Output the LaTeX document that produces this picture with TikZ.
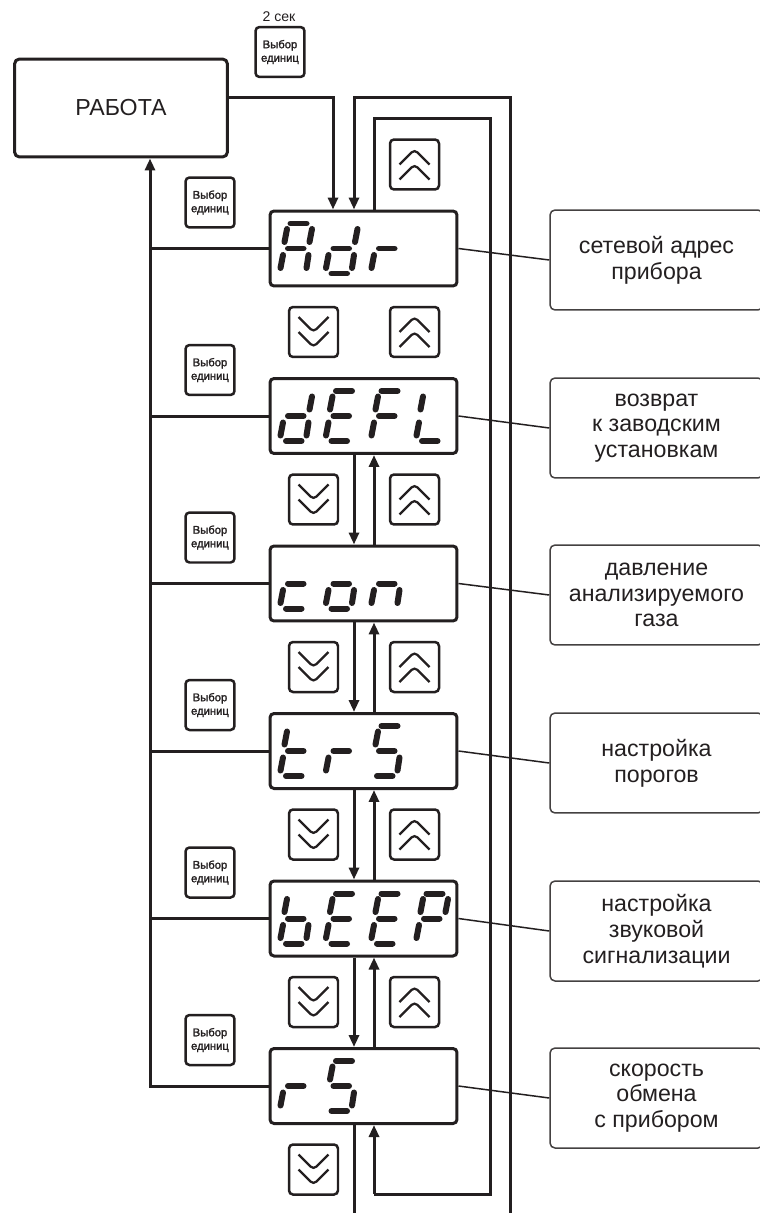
\documentclass[tikz,border=0pt]{standalone}
\usepackage{fontspec}
\setmainfont{Liberation Sans}
\newfontfamily\keyfont[FakeBold=1.6]{Liberation Sans}
\usepackage{xcolor}
\usetikzlibrary{arrows.meta, calc}
\definecolor{InkDark}{RGB}{35,31,32}
% segments of one display digit
\newcommand{\sega}{(-5.5,-25)--(10.5,-25)}
\newcommand{\segb}{(16,-19.5)--(13.5,-6.5)}
\newcommand{\segc}{(12.5,6.5)--(10.5,19.5)}
\newcommand{\segd}{(-10,25)--(5.5,25)}
\newcommand{\sege}{(-13,6.5)--(-15.5,19.5)}
\newcommand{\segf}{(-9,-19.5)--(-11.5,-6.5)}
\newcommand{\segg}{(-8,0)--(7.5,0)}
\newcommand{\digit}[3]{%
  \begin{scope}[shift={(#1,#2)}]
    \foreach \s in {#3} \draw[seg] \csname seg\s\endcsname;
  \end{scope}}
\begin{document}
\begin{tikzpicture}[
    x=0.02cm,y=-0.02cm,
    every node/.style={text=InkDark},
    dsp/.style={draw=InkDark,line width=0.06cm,rounded corners=0.08cm,fill=white,
                minimum width=3.74cm,minimum height=1.5cm,inner sep=0},
    work/.style={draw=InkDark,line width=0.06cm,rounded corners=0.1cm,
                 minimum width=4.26cm,minimum height=1.96cm,
                 font=\fontsize{13.2}{15}\selectfont},
    note/.style={draw=InkDark!85,line width=0.03cm,rounded corners=0.1cm,
                 minimum width=4.26cm,minimum height=2cm,inner sep=0,align=center,
                 font=\fontsize{13.2}{14.7}\selectfont},
    key/.style={draw=InkDark,line width=0.05cm,rounded corners=0.08cm,
                minimum width=0.98cm,minimum height=1cm,inner sep=0},
    unitkey/.style={key,align=center,
                    font=\fontsize{6.4}{7.7}\keyfont},
    upkey/.style={key,path picture={
        \draw[chev,shift={(path picture bounding box.center)}]
          (-15,0)--(0,-15)--(15,0) (-15,15)--(0,0)--(15,15);}},
    dnkey/.style={key,path picture={
        \draw[chev,shift={(path picture bounding box.center)}]
          (-15,0)--(0,15)--(15,0) (-15,-15)--(0,0)--(15,-15);}},
    chev/.style={InkDark,line width=0.045cm},
    seg/.style={InkDark,line width=0.12cm,line cap=round},
    ln/.style={InkDark,line width=0.06cm},
    arr/.style={ln,-{Triangle[length=0.24cm,width=0.2cm]}},
    thin/.style={InkDark,line width=0.03cm}
  ]
  \useasboundingbox (0,0) rectangle (760,1213);

  % lanes
  \coordinate (bus) at (150,0);
  \coordinate (enter) at (333,98);
  \coordinate (dn) at (354,0);
  \coordinate (up) at (374,0);
  \coordinate (outer) at (510.5,98);
  \coordinate (inner) at (490,119);
  \coordinate (loop) at (490,1194);
  \coordinate (dnend) at (354,1213);
  \coordinate (outend) at (510.5,1213);

  \node[work] (work) at (121,108) {РАБОТА};
  \node[font=\fontsize{8}{9}\selectfont] (hold) at (279,17) {2 сек};
  \node[unitkey] (k0) at (280,52) {Выбор\\единиц};

  % displays
  \node[dsp] (adr)  at (363.5,248.5) {};
  \node[dsp] (defl) at (363.5,416) {};
  \node[dsp] (con)  at (363.5,583.5) {};
  \node[dsp] (trs)  at (363.5,751) {};
  \node[dsp] (beep) at (363.5,918.5) {};
  \node[dsp] (rs)   at (363.5,1086) {};

  \node[note] (nadr)  at (656.5,260) {сетевой адрес\\прибора};
  \node[note] (ndefl) at (656.5,428) {возврат\\к заводским\\установкам};
  \node[note] (ncon)  at (656.5,595) {давление\\анализируемого\\газа};
  \node[note] (ntrs)  at (656.5,763) {настройка\\порогов};
  \node[note] (nbeep) at (656.5,931) {настройка\\звуковой\\сигнализации};
  \node[note] (nrs)   at (656.5,1098) {скорость\\обмена\\с прибором};

  \node[unitkey] (k1) at (210,202.5) {Выбор\\единиц};
  \node[unitkey] (k2) at (210,370) {Выбор\\единиц};
  \node[unitkey] (k3) at (210,537.5) {Выбор\\единиц};
  \node[unitkey] (k4) at (210,705) {Выбор\\единиц};
  \node[unitkey] (k5) at (210,872.5) {Выбор\\единиц};
  \node[unitkey] (k6) at (210,1040) {Выбор\\единиц};

  \node[upkey] (u0) at (414.5,164.5) {};
  \node[upkey] (u1) at (414.5,332) {};
  \node[upkey] (u2) at (414.5,499.5) {};
  \node[upkey] (u3) at (414.5,667) {};
  \node[upkey] (u4) at (414.5,834.5) {};
  \node[upkey] (u5) at (414.5,1002) {};
  \node[dnkey] (d1) at (313.5,332) {};
  \node[dnkey] (d2) at (313.5,499.5) {};
  \node[dnkey] (d3) at (313.5,667) {};
  \node[dnkey] (d4) at (313.5,834.5) {};
  \node[dnkey] (d5) at (313.5,1002) {};
  \node[dnkey] (d6) at (313.5,1169.5) {};

  \draw[arr] (work.east |- enter) -- (enter) -- (enter |- adr.north);
  \draw[arr] (outend) -- (outer) -- (outer -| dn) -- (dn |- adr.north);
  \draw[ln] (up |- adr.north) -- (up |- inner) -- (inner) -- (loop) -- (loop -| up);
  \draw[arr] (loop -| up) -- (up |- rs.south);
  \draw[ln] (dn |- rs.south) -- (dnend);
  \draw[arr] (rs.west) -| (bus |- work.south);
  \foreach \n in {adr,defl,con,trs,beep}
    \draw[ln] (\n.west) -- (\n.west -| bus);
  \foreach \a/\b in {defl/con,con/trs,trs/beep,beep/rs} {
    \draw[arr] (dn |- \a.south) -- (dn |- \b.north);
    \draw[arr] (up |- \b.north) -- (up |- \a.south);
  }
  \foreach \a/\b in {adr/nadr,defl/ndefl,con/ncon,trs/ntrs,beep/nbeep,rs/nrs}
    \draw[thin] (\a.east) -- (\b.west);

  % display texts
  \digit{296}{248.5}{a,b,c,e,f,g}
  \digit{341.5}{248.5}{b,c,d,e,g}
  \digit{387}{248.5}{e,g}

  \digit{296}{416}{b,c,d,e,g}
  \digit{341.5}{416}{a,d,e,f,g}
  \digit{387}{416}{a,e,f,g}
  \digit{432}{416}{d,e,f}

  \digit{296}{583.5}{d,e,g}
  \digit{341.5}{583.5}{c,d,e,g}
  \digit{387}{583.5}{c,e,g}

  \digit{296}{751}{d,e,f,g}
  \digit{341.5}{751}{e,g}
  \digit{387}{751}{a,c,d,f,g}

  \digit{296}{918.5}{c,d,e,f,g}
  \digit{341.5}{918.5}{a,d,e,f,g}
  \digit{387}{918.5}{a,d,e,f,g}
  \digit{432}{918.5}{a,b,e,f,g}

  \digit{296}{1086}{e,g}
  \digit{341.5}{1086}{a,c,d,f,g}
\end{tikzpicture}
\end{document}
